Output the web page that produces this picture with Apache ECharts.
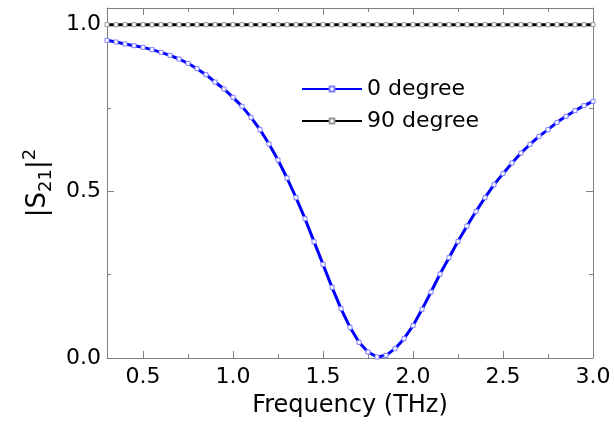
<!DOCTYPE html>
<html>
<head>
<meta charset="utf-8">
<script src="https://cdn.jsdelivr.net/npm/echarts@6/dist/echarts.min.js"></script>
<style>html,body{margin:0;padding:0;background:#fff}#c{width:614px;height:428px}</style>
</head>
<body>
<div id="c"></div>
<script>
var freq = [0.3,0.35,0.4,0.45,0.5,0.55,0.6,0.65,0.7,0.75,0.8,0.85,0.9,0.95,1.0,1.05,1.1,1.15,1.2,1.25,1.3,1.35,1.4,1.45,1.5,1.55,1.6,1.65,1.7,1.75,1.8,1.85,1.9,1.95,2.0,2.05,2.1,2.15,2.2,2.25,2.3,2.35,2.4,2.45,2.5,2.55,2.6,2.65,2.7,2.75,2.8,2.85,2.9,2.95,3.0];
var s21_0deg = [0.953,0.948,0.942,0.937,0.932,0.925,0.917,0.908,0.897,0.884,0.868,0.850,0.828,0.807,0.782,0.755,0.722,0.685,0.642,0.594,0.540,0.481,0.418,0.349,0.281,0.212,0.148,0.092,0.047,0.018,0.003,0.008,0.028,0.058,0.097,0.146,0.198,0.252,0.301,0.350,0.396,0.440,0.481,0.520,0.553,0.585,0.615,0.641,0.665,0.685,0.707,0.725,0.742,0.757,0.770];
var s21_90deg = [1.0,1.0,1.0,1.0,1.0,1.0,1.0,1.0,1.0,1.0,1.0,1.0,1.0,1.0,1.0,1.0,1.0,1.0,1.0,1.0,1.0,1.0,1.0,1.0,1.0,1.0,1.0,1.0,1.0,1.0,1.0,1.0,1.0,1.0,1.0,1.0,1.0,1.0,1.0,1.0,1.0,1.0,1.0,1.0,1.0,1.0,1.0,1.0,1.0,1.0,1.0,1.0,1.0,1.0,1.0];
var xMajorTicks = [0.5,1.0,1.5,2.0,2.5,3.0];
var xMinorTicks = [0.75,1.25,1.75,2.25,2.75];
var yMajorTicks = [0.0,0.5,1.0];
var yMinorTicks = [0.25,0.75];
var seriesNames = ['0 degree','90 degree'];

var FONT = 'DejaVu Sans';
var AX = '#808080';
function pairs(xs, ys){ return xs.map(function(x,i){return [x, ys[i]];}); }
function xAxisDef(pos, ticks, len, labels, line){
  return {
    type:'value', position:pos, min:0.3, max:3.0,
    axisLine:{show:line, onZero:false, lineStyle:{color:AX,width:1}},
    axisTick:{show:true, inside:true, length:len, customValues:ticks, lineStyle:{color:AX,width:1}},
    axisLabel:{show:labels, customValues:ticks, margin:8, color:'#000', fontFamily:FONT, fontSize:22,
      formatter:function(v){return v.toFixed(1);}},
    splitLine:{show:false}
  };
}
function yAxisDef(pos, ticks, len, labels, line){
  return {
    type:'value', position:pos, min:0, max:1.05,
    axisLine:{show:line, onZero:false, lineStyle:{color:AX,width:1}},
    axisTick:{show:true, inside:true, length:len, customValues:ticks, lineStyle:{color:AX,width:1}},
    axisLabel:{show:labels, customValues:ticks, margin:6, color:'#000', fontFamily:FONT, fontSize:22,
      formatter:function(v){return v.toFixed(1);}},
    splitLine:{show:false}
  };
}
var xa = [
  xAxisDef('bottom', xMajorTicks, 7, true, true),
  xAxisDef('bottom', xMinorTicks, 4, false, false),
  xAxisDef('top', xMajorTicks, 7, false, true),
  xAxisDef('top', xMinorTicks, 4, false, false)
];
xa[0].name = 'Frequency (THz)';
xa[0].nameLocation = 'middle';
xa[0].nameGap = 36;
xa[0].nameTextStyle = {color:'#000', fontFamily:FONT, fontSize:24};
var ya = [
  yAxisDef('left', yMajorTicks, 7, true, true),
  yAxisDef('left', yMinorTicks, 4, false, false),
  yAxisDef('right', yMajorTicks, 7, false, true),
  yAxisDef('right', yMinorTicks, 4, false, false)
];
ya[0].name = '{m||S}{sub|21}{m||}{sup|2}';
ya[0].nameLocation = 'middle';
ya[0].nameGap = 47;
ya[0].nameRotate = 90;
ya[0].nameTextStyle = {color:'#000', fontFamily:FONT, fontSize:24,
  rich:{
    m:{fontFamily:FONT, fontSize:26, color:'#000', lineHeight:34, verticalAlign:'middle'},
    sub:{fontFamily:FONT, fontSize:18, color:'#000', lineHeight:34, verticalAlign:'bottom'},
    sup:{fontFamily:FONT, fontSize:18, color:'#000', lineHeight:34, verticalAlign:'top'}
  }};

var chart = echarts.init(document.getElementById('c'), null, {renderer:'canvas'});
chart.setOption({
  animation:false,
  backgroundColor:'#fff',
  grid:{left:107, right:21, top:8, bottom:70, containLabel:false},
  xAxis: xa,
  yAxis: ya,
  legend:{
    orient:'vertical', left:301, top:78, padding:0, itemWidth:60, itemHeight:6, itemGap:10,
    textStyle:{color:'#000', fontFamily:FONT, fontSize:22},
    data:seriesNames
  },
  series:[
    {name:seriesNames[0], type:'line', data:pairs(freq, s21_0deg), xAxisIndex:0, yAxisIndex:0,
      symbol:'rect', symbolSize:4, showSymbol:true, clip:false,
      lineStyle:{color:'#0000ff', width:3},
      itemStyle:{color:'#fff', borderColor:'#8080ff', borderWidth:1}},
    {name:seriesNames[1], type:'line', data:pairs(freq, s21_90deg), xAxisIndex:0, yAxisIndex:0,
      symbol:'rect', symbolSize:4, showSymbol:true, clip:false,
      lineStyle:{color:'#000', width:3},
      itemStyle:{color:'#fff', borderColor:'#999', borderWidth:1}}
  ]
});
</script>
</body>
</html>
